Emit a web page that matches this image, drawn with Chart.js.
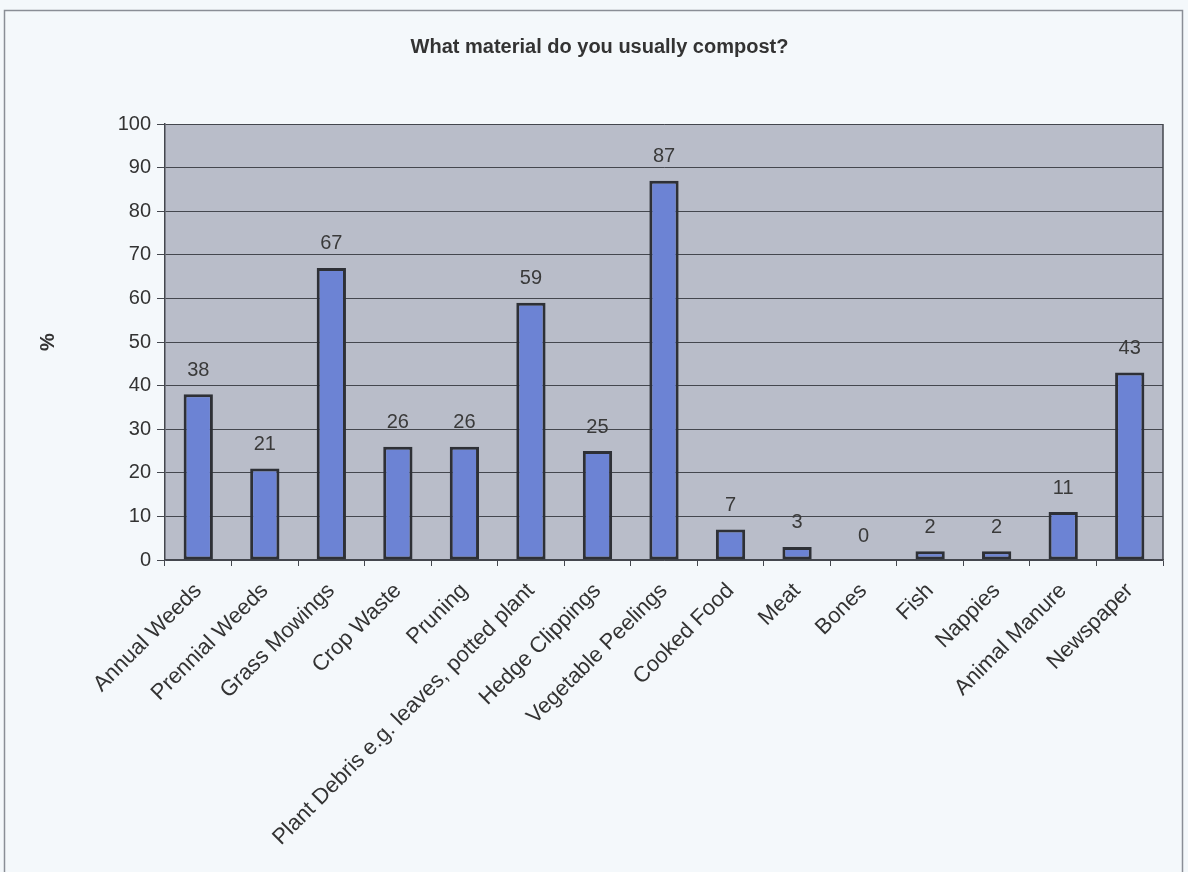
<!DOCTYPE html>
<html>
<head>
<meta charset="utf-8">
<script src="https://cdn.jsdelivr.net/npm/chart.js@4"></script>
<style>
  html, body { margin: 0; padding: 0; background: #f4f8fb; }
  #wrap { width: 1188px; height: 872px; }
</style>
</head>
<body>
<div id="wrap"><canvas id="compostChart" width="1188" height="872"></canvas></div>
<script>
var materials = [
  "Annual Weeds",
  "Prennial Weeds",
  "Grass Mowings",
  "Crop Waste",
  "Pruning",
  "Plant Debris e.g. leaves, potted plant",
  "Hedge Clippings",
  "Vegetable Peelings",
  "Cooked Food",
  "Meat",
  "Bones",
  "Fish",
  "Nappies",
  "Animal Manure",
  "Newspaper"
];
var percents = [38, 21, 67, 26, 26, 59, 25, 87, 7, 3, 0, 2, 2, 11, 43];
var yTicks = [0, 10, 20, 30, 40, 50, 60, 70, 80, 90, 100];

var FONT = '"Liberation Sans", Arial, sans-serif';

// frame round the whole chart plus the grey plot area
var backdrop = {
  id: 'backdrop',
  beforeDraw: function(chart) {
    var ctx = chart.ctx, a = chart.chartArea;
    ctx.save();
    ctx.fillStyle = '#f4f8fb';
    ctx.fillRect(0, 0, chart.width, chart.height);
    ctx.strokeStyle = '#8a8e96';
    ctx.lineWidth = 1.5;
    ctx.strokeRect(4.5, 10.5, 1178, 870);
    ctx.fillStyle = '#b9bdc9';
    ctx.fillRect(a.left, a.top, a.right - a.left, a.bottom - a.top);
    ctx.restore();
  },
  afterDatasetsDraw: function(chart) {
    var ctx = chart.ctx, a = chart.chartArea;
    ctx.save();
    ctx.strokeStyle = '#44474e';
    ctx.lineWidth = 1.5;
    ctx.beginPath();
    ctx.moveTo(a.right, a.top);
    ctx.lineTo(a.right, a.bottom);
    ctx.stroke();
    ctx.restore();
  }
};

// value printed above each bar
var valueLabels = {
  id: 'valueLabels',
  afterDatasetsDraw: function(chart) {
    var ctx = chart.ctx;
    var meta = chart.getDatasetMeta(0);
    ctx.save();
    ctx.font = '20px ' + FONT;
    ctx.fillStyle = '#3a3a3a';
    ctx.textAlign = 'center';
    ctx.textBaseline = 'middle';
    meta.data.forEach(function(bar, i) {
      ctx.fillText(String(percents[i]), bar.x, bar.y - 24);
    });
    ctx.restore();
  }
};

new Chart(document.getElementById('compostChart'), {
  type: 'bar',
  data: {
    labels: materials,
    datasets: [{
      data: percents,
      backgroundColor: '#6c83d4',
      borderColor: '#2e3036',
      borderWidth: 3,
      borderSkipped: false,
      categoryPercentage: 1,
      barPercentage: 0.44
    }]
  },
  plugins: [backdrop, valueLabels],
  options: {
    responsive: false,
    animation: false,
    layout: { padding: { top: 10, left: 36, right: 25, bottom: 10 } },
    plugins: {
      legend: { display: false },
      tooltip: { enabled: false },
      title: {
        display: true,
        text: 'What material do you usually compost?',
        color: '#333333',
        font: { family: FONT, size: 20, weight: 'bold' },
        padding: { top: 25, bottom: 65 }
      }
    },
    scales: {
      x: {
        grid: { display: true, drawOnChartArea: false, drawTicks: true, tickLength: 6, color: '#44474e', lineWidth: 1 },
        border: { display: true, color: '#44474e', width: 1.5 },
        ticks: {
          color: '#333333',
          maxRotation: 45,
          minRotation: 45,
          padding: 12,
          font: { family: FONT, size: 22 }
        },
        afterFit: function(scale) { scale.height = 302; }
      },
      y: {
        min: 0,
        max: 100,
        afterBuildTicks: function(scale) {
          scale.ticks = yTicks.map(function(v) { return { value: v }; });
        },
        grid: { color: '#44474e', lineWidth: 1, tickLength: 8 },
        border: { display: true, color: '#44474e', width: 1.5 },
        ticks: {
          color: '#333333',
          padding: 6,
          font: { family: FONT, size: 20 }
        },
        title: {
          display: true,
          text: '%',
          color: '#333333',
          font: { family: FONT, size: 20, weight: 'bold' },
          padding: { top: 0, bottom: 0 }
        },
        afterFit: function(scale) { scale.width = 129; }
      }
    }
  }
});
</script>
</body>
</html>
